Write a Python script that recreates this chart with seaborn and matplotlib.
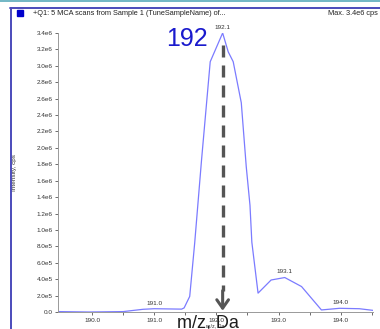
import matplotlib
matplotlib.use("Agg")
import matplotlib.pyplot as plt
from matplotlib.lines import Line2D
from matplotlib.patches import Rectangle
import numpy as np
import pandas as pd
import seaborn as sns

# Spectrum trace (m/z in Da, intensity in cps)
mz = [189.45, 189.95, 190.50, 190.82, 191.00, 191.44, 191.48, 191.57, 191.65,
      191.76, 191.90, 192.10, 192.19, 192.27, 192.40, 192.48, 192.54, 192.57,
      192.67, 192.88, 193.10, 193.37, 193.69, 193.98, 194.30, 194.52]
intensity = [0.005e6, 0.0, 0.005e6, 0.033e6, 0.040e6, 0.035e6, 0.050e6, 0.19e6, 0.84e6,
             1.85e6, 3.05e6, 3.40e6, 3.17e6, 3.05e6, 2.55e6, 1.77e6, 1.30e6, 0.85e6,
             0.23e6, 0.39e6, 0.42e6, 0.31e6, 0.025e6, 0.045e6, 0.040e6, 0.020e6]

# Labelled peaks
peak_mz = [191.0, 192.1, 193.1, 194.0]
peak_int = [0.040e6, 3.40e6, 0.42e6, 0.045e6]
peak_text = ["191.0", "192.1", "193.1", "194.0"]

# Axis ticks
x_ticks = [190.0, 190.5, 191.0, 191.5, 192.0, 192.5, 193.0, 193.5, 194.0, 194.5]
x_tick_labels = ["190.0", "", "191.0", "", "192.0", "", "193.0", "", "194.0", ""]
y_ticks = [i * 0.2e6 for i in range(18)]
y_tick_labels = ["0.0", "2.0e5", "4.0e5", "6.0e5", "8.0e5", "1.0e6", "1.2e6", "1.4e6",
                 "1.6e6", "1.8e6", "2.0e6", "2.2e6", "2.4e6", "2.6e6", "2.8e6",
                 "3.0e6", "3.2e6", "3.4e6"]

title_text = "+Q1: 5 MCA scans from Sample 1 (TuneSampleName) of..."
max_text = "Max. 3.4e6 cps"
marked_mz = 192.1
marked_text = "192"

sns.set_theme(style="white")
plt.rcParams["font.family"] = ["Liberation Sans", "DejaVu Sans"]

W, H = 380, 329
fig = plt.figure(figsize=(W / 100, H / 100), dpi=100)
ax = fig.add_axes([58 / W, (H - 312) / H, (373 - 58) / W, (312 - 33) / H])

df = pd.DataFrame({"mz": mz, "intensity": intensity})
sns.lineplot(data=df, x="mz", y="intensity", ax=ax, color="#7b7bff", lw=0.9,
             estimator=None, sort=False)

ax.set_xlim(189.45, 194.52)
ax.set_ylim(0, 3.4e6)
ax.set_xticks(x_ticks)
ax.set_xticklabels(x_tick_labels)
ax.set_yticks(y_ticks)
ax.set_yticklabels(y_tick_labels)
ax.tick_params(axis="both", labelsize=4.6, colors="#333333", length=2.5, width=0.5,
               direction="out", pad=1.5, bottom=True, left=True)
ax.set_xlabel("m/z, Da", fontsize=3.8, color="#333333", labelpad=0.5)
ax.set_ylabel("Intensity, cps", fontsize=4.6, color="#333333", labelpad=16)
ax.yaxis.set_label_coords(-0.13, 0.5)
for side in ["top", "right"]:
    ax.spines[side].set_visible(False)
for side in ["left", "bottom"]:
    ax.spines[side].set_color("#999999")
    ax.spines[side].set_linewidth(0.7)
ax.patch.set_alpha(0)

# Peak value labels
for px, py, t in zip(peak_mz, peak_int, peak_text):
    ax.annotate(t, (px, py), xytext=(0, 2.2), textcoords="offset points",
                ha="center", va="bottom", fontsize=4.6, color="#333333",
                annotation_clip=False)

# Marked peak: large label and dashed arrow down to the axis
ax.text(marked_mz - 0.58, 3.33e6, marked_text, fontsize=18, color="#1a1acd",
        ha="center", va="center", clip_on=False)
ax.plot([marked_mz, marked_mz], [3.25e6, 0.25e6], color="#555555", lw=2.4,
        ls=(0, (3.6, 2.4)), solid_capstyle="butt", dash_capstyle="butt")
ax.annotate("", xy=(marked_mz, 0.015e6), xytext=(marked_mz, 0.26e6),
            arrowprops=dict(arrowstyle="->,head_length=0.6,head_width=0.42",
                            lw=2.2, color="#555555", mutation_scale=10,
                            shrinkA=0, shrinkB=0),
            annotation_clip=False)

# Large axis caption
fig.text(208 / W, 1.5 / H, "m/z, Da", fontsize=13, color="#1e1e1e",
         ha="center", va="baseline")

# Window frame and header
fig.add_artist(Line2D([0, 1], [1 - 1 / H, 1 - 1 / H], color="#5aaabb", lw=1.2))
fig.add_artist(Line2D([10 / W, 1], [1 - 8 / H, 1 - 8 / H], color="#4b4bbb", lw=1.4))
fig.add_artist(Line2D([11 / W, 11 / W], [0, 1 - 8 / H], color="#4b4bbb", lw=1.4))
fig.add_artist(Rectangle((17 / W, 1 - 16 / H), 6 / W, 6 / H, color="#0000cc",
                         transform=fig.transFigure))
fig.text(33 / W, 1 - 13.5 / H, title_text, fontsize=5.3, color="#222222",
         ha="left", va="center")
fig.text(328 / W, 1 - 13.5 / H, max_text, fontsize=5.3, color="#222222",
         ha="left", va="center")

fig.savefig("out.png", dpi=100)
